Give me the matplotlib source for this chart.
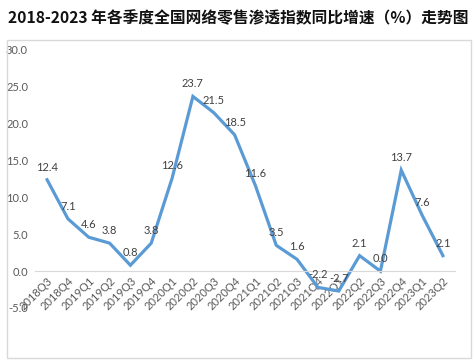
import matplotlib
matplotlib.use("Agg")
import matplotlib.pyplot as plt
from matplotlib.patches import Rectangle

categories = ["2018Q3", "2018Q4", "2019Q1", "2019Q2", "2019Q3", "2019Q4",
              "2020Q1", "2020Q2", "2020Q3", "2020Q4", "2021Q1", "2021Q2",
              "2021Q3", "2021Q4", "2022Q1", "2022Q2", "2022Q3", "2022Q4",
              "2023Q1", "2023Q2"]
values = [12.4, 7.1, 4.6, 3.8, 0.8, 3.8, 12.6, 23.7, 21.5, 18.5, 11.6, 3.5,
          1.6, -2.2, -2.7, 2.1, 0.0, 13.7, 7.6, 2.1]
y_ticks = [-5.0, 0.0, 5.0, 10.0, 15.0, 20.0, 25.0, 30.0]
title = "2018-2023 年各季度全国网络零售渗透指数同比增速（%）走势图"

W, H = 476, 364
fig = plt.figure(figsize=(W / 100, H / 100), dpi=100)
fig.patch.set_facecolor("white")

# outer chart frame
fig.add_artist(Rectangle((7 / W, 1 - 358 / H), (471 - 7) / W, (358 - 40) / H,
                         transform=fig.transFigure, fill=False,
                         edgecolor="#D9D9D9", linewidth=1.0))

fig.text(0.5, 1 - 18 / H, title, ha="center", va="center",
         fontsize=11.3, fontweight="bold",
         family=["Noto Sans CJK SC", "DejaVu Sans"], color="#111111")

left, right = 35 / W, 455 / W
bottom, top = 1 - 308 / H, 1 - 50 / H
ax = fig.add_axes([left, bottom, right - left, top - bottom])
ax.set_facecolor("none")

x = list(range(len(categories)))
ax.plot(x, values, color="#5B9BD5", linewidth=2.3, solid_joinstyle="miter")

for xi, v in zip(x, values):
    ax.annotate(f"{v:.1f}", (xi, v), xytext=(0, 5), textcoords="offset points",
                ha="center", va="bottom", fontsize=8, color="#404040",
                family="Lato")

ax.set_xlim(-0.58, len(categories) - 1 + 0.58)
ax.set_ylim(-5, 30)
ax.set_yticks(y_ticks)
ax.set_yticklabels([f"{t:.1f}" for t in y_ticks])
ax.set_xticks(x)
ax.set_xticklabels(categories)

for s in ["top", "right", "left"]:
    ax.spines[s].set_visible(False)
ax.spines["bottom"].set_position(("data", 0))
ax.spines["bottom"].set_color("#D9D9D9")
ax.spines["bottom"].set_linewidth(0.8)
ax.tick_params(axis="both", length=0, labelsize=8, labelcolor="#595959")
ax.tick_params(axis="x", pad=3)
ax.tick_params(axis="y", pad=5)

for lab in ax.get_xticklabels():
    lab.set_rotation(45)
    lab.set_ha("right")
    lab.set_va("top")
    lab.set_rotation_mode("anchor")
    lab.set_family("Lato")
for lab in ax.get_yticklabels():
    lab.set_family("Lato")

fig.savefig("out.png", dpi=100, facecolor="white")
